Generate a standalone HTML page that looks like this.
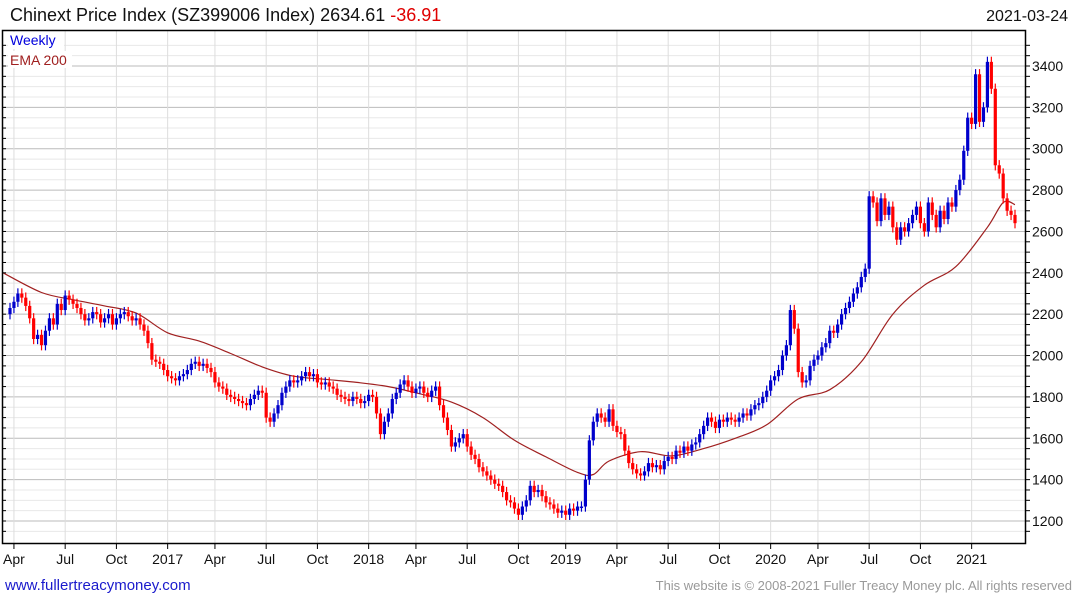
<!DOCTYPE html>
<html><head><meta charset="utf-8"><style>
html,body{margin:0;padding:0;background:#fff;}
svg{display:block;font-family:"Liberation Sans",sans-serif;}
</style></head><body>
<svg id="chart" width="1075" height="600" viewBox="0 0 1075 600">
<text x="10" y="21" font-size="18" fill="#111">Chinext Price Index (SZ399006 Index) 2634.61 <tspan fill="#e00000">-36.91</tspan></text>
<text x="1068" y="21" font-size="16" fill="#111" text-anchor="end">2021-03-24</text>
<g id="grid"></g>
<g id="ema"></g>
<g id="candles"></g>
<rect x="2.5" y="30.5" width="1023" height="513" fill="none" stroke="#000" stroke-width="1.5"/>
<g id="axes"></g>
<rect x="8" y="32" width="56" height="17" fill="#fff"/>
<text x="10" y="45" font-size="14" fill="#0000dd">Weekly</text>
<rect x="8" y="51" width="64" height="17" fill="#fff"/>
<text x="10" y="65" font-size="14" fill="#a02020">EMA 200</text>
<text x="5" y="590" font-size="15" fill="#1a1acc">www.fullertreacymoney.com</text>
<text x="1072" y="590" font-size="13" fill="#999" text-anchor="end">This website is © 2008-2021 Fuller Treacy Money plc. All rights reserved</text>
</svg>
<script>
const closes = [
2230,2260,2300,2280,2240,2180,2080,2100,2050,2120,2180,2150,2250,2220,2290,2270,2250,2230,2200,2170,
2180,2210,2200,2160,2180,2200,2150,2180,2200,2210,2190,2170,2180,2150,2120,2060,1980,1970,1960,1930,
1900,1890,1880,1900,1910,1930,1960,1970,1950,1960,1940,1920,1870,1850,1840,1810,1800,1790,1780,1770,
1760,1790,1810,1830,1820,1700,1680,1720,1760,1820,1850,1880,1870,1880,1900,1920,1900,1910,1870,1860,
1870,1850,1840,1810,1800,1790,1780,1800,1790,1770,1780,1810,1800,1720,1620,1680,1720,1790,1820,1860,
1880,1850,1820,1840,1850,1820,1800,1830,1850,1760,1700,1640,1560,1580,1600,1620,1560,1520,1500,1460,
1440,1420,1400,1380,1370,1340,1300,1290,1260,1230,1270,1300,1370,1340,1350,1320,1290,1280,1260,1240,
1250,1230,1260,1250,1270,1270,1400,1590,1680,1720,1700,1680,1740,1660,1630,1620,1540,1480,1450,1430,
1420,1440,1480,1460,1470,1450,1490,1510,1500,1540,1530,1560,1540,1570,1580,1620,1660,1700,1680,1650,
1690,1680,1700,1690,1680,1700,1720,1710,1740,1760,1770,1800,1830,1880,1900,1930,2000,2050,2220,2130,
1920,1870,1880,1950,1980,2000,2040,2060,2120,2110,2150,2200,2230,2260,2300,2330,2380,2420,2770,2740,
2650,2760,2680,2720,2620,2560,2620,2600,2640,2680,2720,2640,2600,2740,2680,2620,
2700,2660,2740,2720,2800,2850,2990,3150,3120,3360,3130,3200,3420,3290,2920,2880,2760,2700,2680,2640
];
const emaIdx = [0,8,16,24,32,40,48,56,64,72,80,88,96,104,112,120,128,136,144,148,152,160,168,176,184,192,200,208,216,224,232,240,248,252,255];
const emaVals = [2400,2305,2270,2240,2205,2110,2070,2010,1945,1900,1885,1870,1850,1815,1775,1700,1590,1510,1435,1425,1490,1535,1515,1550,1600,1665,1790,1835,1970,2200,2340,2430,2620,2740,2730];
const yTicks = [1200,1400,1600,1800,2000,2200,2400,2600,2800,3000,3200,3400];
const xLabels = ["Apr","Jul","Oct","2017","Apr","Jul","Oct","2018","Apr","Jul","Oct","2019","Apr","Jul","Oct","2020","Apr","Jul","Oct","2021"];
const xLabelWeek = [1,14,27,40,52,65,78,91,103,116,129,141,154,167,180,193,205,218,231,244];

const NS="http://www.w3.org/2000/svg";
const X = i => 10 + i*(1015-10)/255;
const Y = p => 521 - (p-1200)*(455/2200);
function mk(tag, attrs, parent){const e=document.createElementNS(NS,tag);for(const k in attrs)e.setAttribute(k,attrs[k]);parent.appendChild(e);return e;}
const grid=document.getElementById('grid'), axes=document.getElementById('axes');
for(let p=1150;p<=3500;p+=50){
  const y=Y(p); if(y<31||y>543) continue;
  const major = p%200===0;
  const l=mk('line',{x1:3,x2:1025,y1:y,y2:y,stroke:major?'#bbbbbb':'#e8e8e8','stroke-width':1},grid);
  
  
  const t=mk('line',{x1:1025,x2:1030,y1:y,y2:y,stroke:'#000','stroke-width':1},axes);
  
  
  const t2=mk('line',{x1:2,x2:6,y1:y,y2:y,stroke:'#000','stroke-width':1},axes);
  
  
}
yTicks.forEach(v=>{
  const t=mk('text',{x:1032,y:Y(v)+5,'font-size':14,fill:'#111'},axes);
  t.textContent=v;
  
  
});
xLabels.forEach((s,k)=>{
  const x=X(xLabelWeek[k]);
  const g=mk('line',{x1:x,x2:x,y1:31,y2:543,stroke:'#dddddd','stroke-width':1},grid);
  
  
  const tk=mk('line',{x1:x,x2:x,y1:543,y2:549,stroke:'#000','stroke-width':1},axes);
  
  
  const t=mk('text',{x:x,y:564,'font-size':14,fill:'#111','text-anchor':'middle'},axes);
  t.textContent=s;
  
  
});
const emaG=document.getElementById('ema');
const P=emaIdx.map((i,k)=>[i===0?3:X(i), Y(emaVals[k])]);
let d='M'+P[0][0].toFixed(1)+','+P[0][1].toFixed(1);
for(let k=0;k<P.length-1;k++){
  const p0=P[Math.max(0,k-1)],p1=P[k],p2=P[k+1],p3=P[Math.min(P.length-1,k+2)];
  const c1=[p1[0]+(p2[0]-p0[0])/6,p1[1]+(p2[1]-p0[1])/6];
  const c2=[p2[0]-(p3[0]-p1[0])/6,p2[1]-(p3[1]-p1[1])/6];
  d+=' C'+c1.map(v=>v.toFixed(1)).join(',')+' '+c2.map(v=>v.toFixed(1)).join(',')+' '+p2.map(v=>v.toFixed(1)).join(',');
}
const pl=mk('path',{d:d,fill:'none',stroke:'#a02020','stroke-width':1.2},emaG);


const cg=document.getElementById('candles');
closes.forEach((c,i)=>{
  const o = i===0 ? c-30 : closes[i-1];
  const up = c>=o;
  const col = up ? '#0000cc' : '#ff0000';
  const hi = Math.max(o,c) + 25, lo = Math.min(o,c) - 25;
  const x=X(i);
  const w=mk('line',{x1:x,x2:x,y1:Y(hi),y2:Y(lo),stroke:col,'stroke-width':1.2},cg);
  
  
  const top=Y(Math.max(o,c)), h=Math.max(1.5,Y(Math.min(o,c))-top);
  const b=mk('rect',{x:x-1.6,y:top,width:3.2,height:h,fill:col},cg);
  
  
});
</script>
</body></html>
